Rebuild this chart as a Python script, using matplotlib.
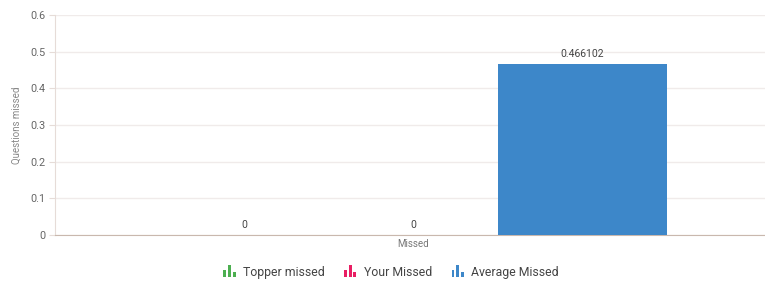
import matplotlib
matplotlib.use("Agg")
from matplotlib import pyplot as plt
from matplotlib.patches import Rectangle
from matplotlib.legend_handler import HandlerBase

plt.rcParams['font.family'] = ['Roboto', 'DejaVu Sans']

category = "Missed"
series = ["Topper missed", "Your Missed", "Average Missed"]
values = [0, 0, 0.466102]
labels = ["0", "0", "0.466102"]
colors = ["#4caf50", "#e91e63", "#3d87c9"]
yticks = [0, 0.1, 0.2, 0.3, 0.4, 0.5, 0.6]


class BarIcon(HandlerBase):
    # little three-bar glyph like the web legend
    def create_artists(self, legend, orig, xd, yd, w, h, fontsize, trans):
        c = orig.get_facecolor()
        bw = w / 4.2
        arts = []
        for i, f in enumerate([0.6, 1.05, 0.4]):
            r = Rectangle((i * bw * 1.6, -1), bw, h * f, facecolor=c,
                          edgecolor="none", transform=trans)
            arts.append(r)
        return arts


fig = plt.figure(figsize=(7.65, 2.84), dpi=100)
ax = fig.add_axes([55 / 765, 1 - 235 / 284, 710 / 765, 220 / 284])

pos = [-1, 0, 1]
bars = []
for p, v, c, s in zip(pos, values, colors, series):
    bars.append(ax.bar(p, v, width=1.0, color=c, label=s, zorder=3))
for p, v, t in zip(pos, values, labels):
    ax.text(p, v + 0.014, t, ha="center", va="bottom", fontsize=7.5, color="#444444")

ax.set_xlim(-2.12, 2.08)
ax.set_ylim(0, 0.6)
ax.set_yticks(yticks)
ax.set_yticklabels(["0", "0.1", "0.2", "0.3", "0.4", "0.5", "0.6"])
ax.set_xticks([0])
ax.set_xticklabels([category])
ax.tick_params(axis="x", length=0, labelsize=7, labelcolor="#777777", pad=3)
ax.tick_params(axis="y", length=4, color="#e6dcd8", labelsize=7.8, labelcolor="#666666", pad=3)
ax.grid(axis="y", color="#f0ebea", linewidth=1, zorder=0)
for s in ["top", "right"]:
    ax.spines[s].set_visible(False)
ax.spines["left"].set_color("#e6dcd8")
ax.spines["bottom"].set_color("#c9b8ae")
ax.set_ylabel("Questions missed", fontsize=7, color="#888888", labelpad=6)

handles = [b.patches[0] for b in bars]
fig.legend(handles, series, loc="center", bbox_to_anchor=(391 / 765, 1 - 272 / 284),
           ncol=3, frameon=False, fontsize=8.8, handler_map={Rectangle: BarIcon()},
           handlelength=1.0, handleheight=1.1, handletextpad=0.6, columnspacing=1.6,
           labelcolor="#444444")

fig.savefig("out.png", dpi=100)
